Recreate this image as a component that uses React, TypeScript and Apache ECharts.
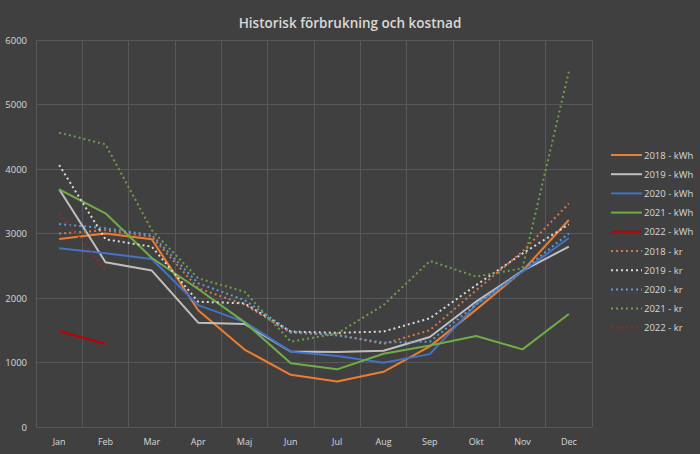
import React, { useEffect, useRef } from "react";
import * as echarts from "echarts";

const months = ["Jan", "Feb", "Mar", "Apr", "Maj", "Jun", "Jul", "Aug", "Sep", "Okt", "Nov", "Dec"];

const kwh2018 = [2915, 3000, 2910, 1810, 1200, 810, 705, 855, 1250, 1820, 2420, 3210];
const kwh2019 = [3685, 2555, 2425, 1617, 1597, 1170, 1163, 1183, 1395, 1945, 2420, 2796];
const kwh2020 = [2772, 2695, 2605, 1890, 1630, 1168, 1100, 997, 1130, 1900, 2410, 2930];
const kwh2021 = [3685, 3313, 2620, 2140, 1625, 987, 894, 1135, 1262, 1411, 1204, 1752];
const kwh2022 = [1488, 1287, null, null, null, null, null, null, null, null, null, null];
const kr2018 = [3000, 3050, 2950, 2150, 1900, 1460, 1430, 1290, 1500, 2120, 2720, 3465];
const kr2019 = [4062, 2910, 2795, 1943, 1917, 1478, 1460, 1480, 1685, 2200, 2690, 3140];
const kr2020 = [3147, 3080, 2977, 2228, 1969, 1480, 1420, 1310, 1323, 1900, 2430, 3000];
const kr2021 = [4563, 4383, 3050, 2305, 2098, 1323, 1450, 1890, 2574, 2331, 2460, 5509];
const kr2022 = [3313, 2434, null, null, null, null, null, null, null, null, null, null];

const seriesDefs = [
  { name: "2018 - kWh", data: kwh2018, color: "#ED7D31", dotted: false },
  { name: "2019 - kWh", data: kwh2019, color: "#BFBFBF", dotted: false },
  { name: "2020 - kWh", data: kwh2020, color: "#4472C4", dotted: false },
  { name: "2021 - kWh", data: kwh2021, color: "#70AD47", dotted: false },
  { name: "2022 - kWh", data: kwh2022, color: "#C00000", dotted: false },
  { name: "2018 - kr", data: kr2018, color: "#D97548", dotted: true },
  { name: "2019 - kr", data: kr2019, color: "#D9D9D9", dotted: true },
  { name: "2020 - kr", data: kr2020, color: "#5B9BD5", dotted: true },
  { name: "2021 - kr", data: kr2021, color: "#6E9E4A", dotted: true },
  { name: "2022 - kr", data: kr2022, color: "#8E2B2B", dotted: true },
];

export default function App() {
  const ref = useRef<HTMLDivElement>(null);
  useEffect(() => {
    if (!ref.current) return;
    const chart = echarts.init(ref.current, null, { renderer: "svg" });
    const font = "'Open Sans', 'Noto Sans', sans-serif";
    chart.setOption({
      animation: false,
      backgroundColor: "#404040",
      textStyle: { fontFamily: font },
      title: {
        text: "Historisk förbrukning och kostnad",
        left: "center",
        top: 11,
        textStyle: { color: "#D9D9D9", fontSize: 13.5, fontWeight: 600, fontFamily: font },
      },
      legend: {
        orient: "vertical",
        left: 605,
        top: 145,
        itemWidth: 31,
        itemHeight: 10,
        itemGap: 9.2,
        itemStyle: { opacity: 0 },
        textStyle: {
          color: "#D9D9D9",
          fontSize: 9.5,
          lineHeight: 10,
          fontFamily: font,
          padding: [0, 0, 0, -3],
        },
        data: seriesDefs.map((s) => s.name),
      },
      grid: { left: 36, right: 108, top: 40, bottom: 27, containLabel: false },
      xAxis: {
        type: "category",
        data: months,
        boundaryGap: true,
        axisLine: { show: false },
        axisTick: { show: false },
        axisLabel: { color: "#D9D9D9", fontSize: 9, margin: 10, interval: 0 },
        splitLine: { show: true, interval: 0, lineStyle: { color: "#585858", width: 1 } },
      },
      yAxis: {
        type: "value",
        min: 0,
        max: 6000,
        interval: 1000,
        axisLine: { show: false },
        axisTick: { show: false },
        axisLabel: {
          color: "#D9D9D9",
          fontSize: 9.5,
          margin: 9,
          formatter: (v: number) => String(v),
        },
        splitLine: { show: true, lineStyle: { color: "#585858", width: 1 } },
      },
      series: seriesDefs.map((s) => ({
        name: s.name,
        type: "line",
        data: s.data,
        symbol: "none",
        showSymbol: false,
        connectNulls: false,
        color: s.color,
        lineStyle: {
          color: s.color,
          width: 2,
          type: s.dotted ? [2, 3] : "solid",
        },
      })),
    });
    return () => chart.dispose();
  }, []);
  return (
    <div
      ref={ref}
      style={{ position: "absolute", left: 0, top: 0, width: 700, height: 454 }}
    />
  );
}
